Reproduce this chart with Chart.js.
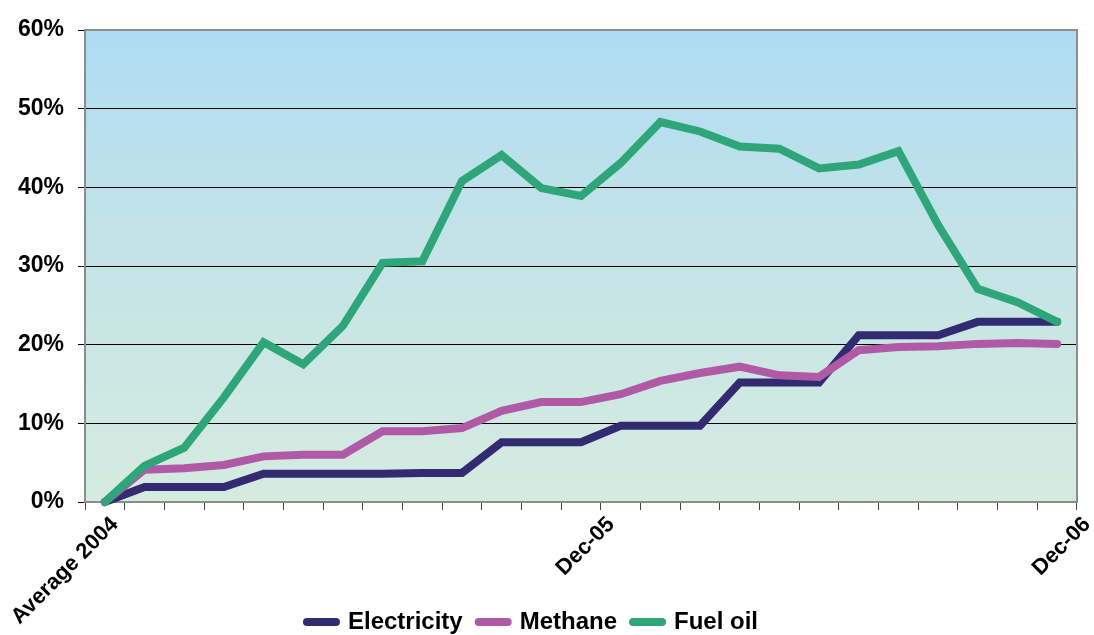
<!DOCTYPE html>
<html>
<head>
  <title>Energy price changes since 2004</title>
  <script src="https://cdn.jsdelivr.net/npm/chart.js"></script>
  <style>
    body {
      margin: 0;
      padding: 0;
      background: #fff;
      overflow: hidden;
    }
    #wrap {
      width: 1094px;
      height: 635px;
      overflow: hidden;
    }
  </style>
</head>
<body>
  <div id="wrap">
    <canvas id="priceChart" width="1094" height="644"></canvas>
  </div>
  <script>
    const FONT = "'Liberation Sans', Arial, sans-serif";

    // Categories: 2004 average, then every month of 2005 and 2006
    const months = [
      'Average 2004',
      'Jan-05', 'Feb-05', 'Mar-05', 'Apr-05', 'May-05', 'Jun-05',
      'Jul-05', 'Aug-05', 'Sep-05', 'Oct-05', 'Nov-05', 'Dec-05',
      'Jan-06', 'Feb-06', 'Mar-06', 'Apr-06', 'May-06', 'Jun-06',
      'Jul-06', 'Aug-06', 'Sep-06', 'Oct-06', 'Nov-06', 'Dec-06'
    ];
    // only these get a label under the axis
    const shownLabels = ['Average 2004', 'Dec-05', 'Dec-06'];

    // % change vs 2004 average
    const electricity = [0, 1.9, 1.9, 1.9, 3.6, 3.6, 3.6, 3.6, 3.7, 3.7, 7.6, 7.6, 7.6,
                         9.7, 9.7, 9.7, 15.2, 15.2, 15.2, 21.2, 21.2, 21.2, 22.9, 22.9, 22.9];
    const methane = [0, 4.1, 4.3, 4.7, 5.8, 6.0, 6.0, 9.0, 9.0, 9.4, 11.6, 12.7, 12.7,
                     13.7, 15.4, 16.4, 17.2, 16.1, 15.9, 19.3, 19.7, 19.8, 20.1, 20.2, 20.1];
    const fuelOil = [0, 4.6, 6.9, 13.3, 20.3, 17.5, 22.4, 30.4, 30.6, 40.8, 44.1, 39.9, 38.9,
                     43.1, 48.3, 47.1, 45.2, 44.9, 42.4, 42.9, 44.6, 35.2, 27.1, 25.4, 22.9];

    const yMin = 0;
    const yMax = 60;
    const yStep = 10;

    const LINE_W = 8;

    // blue-to-green fill and grey frame of the plot area
    const plotArea = {
      id: 'plotArea',
      beforeDraw(chart) {
        const {ctx, chartArea: a} = chart;
        const g = ctx.createLinearGradient(0, a.top, 0, a.bottom);
        g.addColorStop(0, '#afdcf3');
        g.addColorStop(0.5, '#c5e4e6');
        g.addColorStop(1, '#d5ebe0');
        ctx.save();
        ctx.fillStyle = g;
        ctx.fillRect(a.left, a.top, a.right - a.left, a.bottom - a.top);
        ctx.restore();
      },
      beforeDatasetsDraw(chart) {
        const {ctx, chartArea: a} = chart;
        ctx.save();
        ctx.strokeStyle = '#8c8c8c';
        ctx.lineWidth = 2;
        ctx.strokeRect(a.left, a.top, a.right - a.left, a.bottom - a.top);
        ctx.restore();
      }
    };

    // rotated category labels, drawn by hand so they sit like the original
    const xLabels = {
      id: 'xLabels',
      afterDraw(chart) {
        const {ctx, chartArea: a} = chart;
        const x = chart.scales.x;
        ctx.save();
        ctx.font = 'bold 22px ' + FONT;
        ctx.fillStyle = '#000';
        ctx.textAlign = 'right';
        ctx.textBaseline = 'middle';
        shownLabels.forEach(name => {
          const i = months.indexOf(name);
          // first label pulled in so it stays on the canvas
          const shift = i === 0 ? 10 : 30;
          ctx.save();
          ctx.translate(x.getPixelForValue(i) + shift, a.bottom + 19);
          ctx.rotate(-Math.PI / 4);
          ctx.fillText(name, 0, 0);
          ctx.restore();
        });
        ctx.restore();
      }
    };

    // legend row sits a little left of the page centre
    const LEGEND_SHIFT = 6;
    const legendNudge = {
      id: 'legendNudge',
      afterLayout(chart) {
        const lg = chart.legend;
        if (!lg) return;
        lg.left -= LEGEND_SHIFT;
        lg.right -= LEGEND_SHIFT;
        lg.legendHitBoxes.forEach(h => { h.left -= LEGEND_SHIFT; });
      }
    };

    function series(label, data, color, order) {
      return {
        label: label,
        data: data,
        borderColor: color,
        backgroundColor: color,
        borderWidth: LINE_W,
        borderCapStyle: 'round',
        borderJoinStyle: 'miter',
        pointRadius: 0,
        pointHoverRadius: 0,
        tension: 0,
        fill: false,
        clip: 10,
        order: order
      };
    }

    const ctx = document.getElementById('priceChart').getContext('2d');
    new Chart(ctx, {
      type: 'line',
      data: {
        labels: months,
        datasets: [
          series('Electricity', electricity, '#332b71', 3),
          series('Methane', methane, '#b05aa5', 2),
          series('Fuel oil', fuelOil, '#2fa57a', 1)
        ]
      },
      options: {
        responsive: false,
        animation: false,
        devicePixelRatio: 1,
        layout: {
          padding: { top: 30, right: 17, left: 0, bottom: 0 }
        },
        plugins: {
          tooltip: { enabled: false },
          title: { display: false },
          legend: {
            position: 'bottom',
            labels: {
              usePointStyle: true,
              pointStyle: 'line',
              pointStyleWidth: 29,
              padding: 16,
              color: '#000',
              font: { family: FONT, size: 24, weight: 'bold' },
              sort: (a, b) => a.datasetIndex - b.datasetIndex,
              generateLabels: chart => {
                const items = Chart.defaults.plugins.legend.labels.generateLabels(chart);
                return items.map(it => {
                  const ds = chart.data.datasets[it.datasetIndex];
                  return Object.assign(it, {
                    lineWidth: LINE_W,
                    lineCap: 'round',
                    strokeStyle: ds.borderColor,
                    fillStyle: ds.borderColor
                  });
                });
              }
            }
          }
        },
        scales: {
          x: {
            offset: true,
            grid: {
              offset: true,
              drawOnChartArea: false,
              drawTicks: true,
              tickLength: 8,
              color: '#444'
            },
            border: { display: false },
            ticks: { display: false, autoSkip: false },
            afterFit: scale => { scale.height = 92; }
          },
          y: {
            min: yMin,
            max: yMax,
            ticks: {
              stepSize: yStep,
              padding: 14,
              color: '#000',
              font: { family: FONT, size: 23, weight: 'bold' },
              callback: v => v + '%'
            },
            grid: {
              tickLength: 7,
              tickColor: '#000',
              lineWidth: 1,
              color: c => (c.tick && (c.tick.value === yMin || c.tick.value === yMax)) ? 'rgba(0,0,0,0)' : '#000'
            },
            border: { display: false },
            afterFit: scale => { scale.width = 85; }
          }
        }
      },
      plugins: [plotArea, xLabels, legendNudge]
    });
  </script>
</body>
</html>
